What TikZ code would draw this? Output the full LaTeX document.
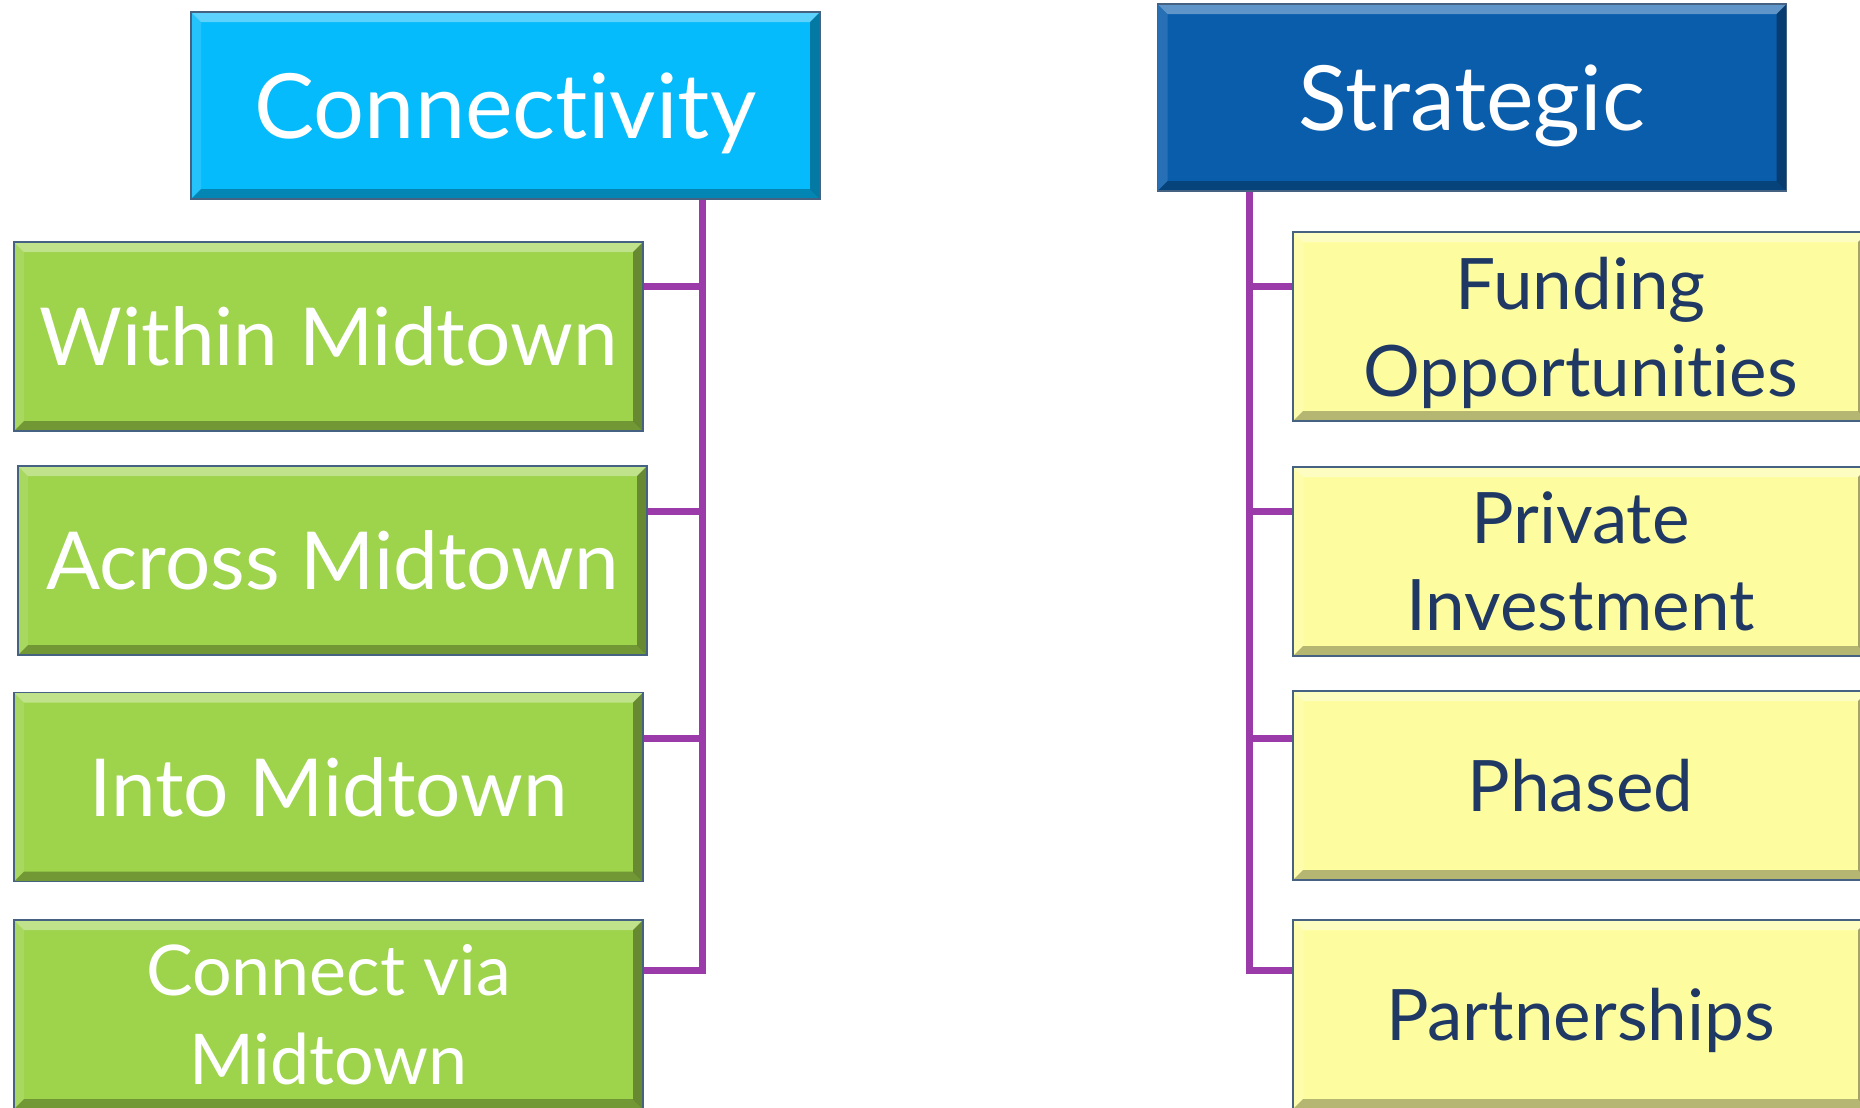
\documentclass[tikz,border=0pt]{standalone}
\usepackage{fontspec}
\setmainfont{Lato}[Ligatures={NoCommon}]
\definecolor{cyanhead}{RGB}{6,187,251}
\definecolor{bluehead}{RGB}{10,93,171}
\definecolor{leafgreen}{RGB}{158,211,76}
\definecolor{paleyellow}{RGB}{253,253,160}
\definecolor{navytext}{RGB}{31,56,100}
\definecolor{busline}{RGB}{155,58,169}
\definecolor{tileedge}{RGB}{70,98,130}
\tikzset{
  bevel/.style={path picture={
    \fill[white,opacity=.35]
      (path picture bounding box.north west) -- (path picture bounding box.north east)
      -- ([shift={(-5pt,-5pt)}]path picture bounding box.north east)
      -- ([shift={(5pt,-5pt)}]path picture bounding box.north west) -- cycle;
    \fill[white,opacity=.12]
      (path picture bounding box.north west) -- (path picture bounding box.south west)
      -- ([shift={(5pt,5pt)}]path picture bounding box.south west)
      -- ([shift={(5pt,-5pt)}]path picture bounding box.north west) -- cycle;
    \fill[black,opacity=.28]
      (path picture bounding box.south west) -- (path picture bounding box.south east)
      -- ([shift={(-5pt,5pt)}]path picture bounding box.south east)
      -- ([shift={(5pt,5pt)}]path picture bounding box.south west) -- cycle;
    \fill[black,opacity=.35]
      (path picture bounding box.north east) -- (path picture bounding box.south east)
      -- ([shift={(-5pt,5pt)}]path picture bounding box.south east)
      -- ([shift={(-5pt,-5pt)}]path picture bounding box.north east) -- cycle;
  }},
  tile/.style={draw=tileedge, line width=0.8pt, inner sep=0pt, text depth=0pt,
    minimum height=94.5pt, align=center, bevel},
  headtile/.style={tile, minimum width=314.5pt, minimum height=93.5pt,
    text=white, font=\fontsize{45}{52}\selectfont},
  greentile/.style={tile, fill=leafgreen, minimum width=314.5pt,
    text=white, font=\fontsize{40}{44.5}\selectfont},
  yellowtile/.style={tile, fill=paleyellow, minimum width=287.5pt,
    text=navytext, font=\fontsize{35.5}{43.5}\selectfont},
  link/.style={draw=busline, line width=3.5pt}
}
\begin{document}
\begin{tikzpicture}[x=0.5pt,y=-0.5pt]
\useasboundingbox (0,0) rectangle (1860,1108);
\clip (0,0) rectangle (1860,1108);

% headers
\node[headtile, fill=cyanhead] (conn) at (505.5,105.5) {Connectivity};
\node[headtile, fill=bluehead] (strat) at (1472,97.5) {Strategic};

% connectivity branches
\node[greentile] (within) at (328.5,336.5) {Within Midtown};
\node[greentile] (across) at (332.5,560.5) {Across Midtown};
\node[greentile] (into)   at (328.5,787)   {Into Midtown};
\node[greentile, font=\fontsize{35}{44.5}\selectfont] (via) at (328.5,1014.5)
  {Connect via\\Midtown};

% strategic branches
\node[yellowtile] (fund)    at (1580.5,326.5) {Funding\\Opportunities};
\node[yellowtile] (private) at (1580.5,561.5) {Private\\Investment};
\node[yellowtile] (phased)  at (1580.5,785.5) {Phased};
\node[yellowtile] (partner) at (1580.5,1014.5) {Partnerships};

% bus joints
\coordinate (la) at (702,286);
\coordinate (lb) at (702,511);
\coordinate (lc) at (702,738);
\coordinate (ld) at (702,970);
\coordinate (ra) at (1249,286);
\coordinate (rb) at (1249,511);
\coordinate (rc) at (1249,738);
\coordinate (rd) at (1249,970);

% left bus
\draw[link] (la |- conn.south) -- (ld) -- (ld -| via.east);
\draw[link] (la -| within.east) -- (la);
\draw[link] (lb -| across.east) -- (lb);
\draw[link] (lc -| into.east) -- (lc);

% right bus
\draw[link] (ra |- strat.south) -- (rd) -- (rd -| partner.west);
\draw[link] (ra) -- (ra -| fund.west);
\draw[link] (rb) -- (rb -| private.west);
\draw[link] (rc) -- (rc -| phased.west);
\end{tikzpicture}
\end{document}
